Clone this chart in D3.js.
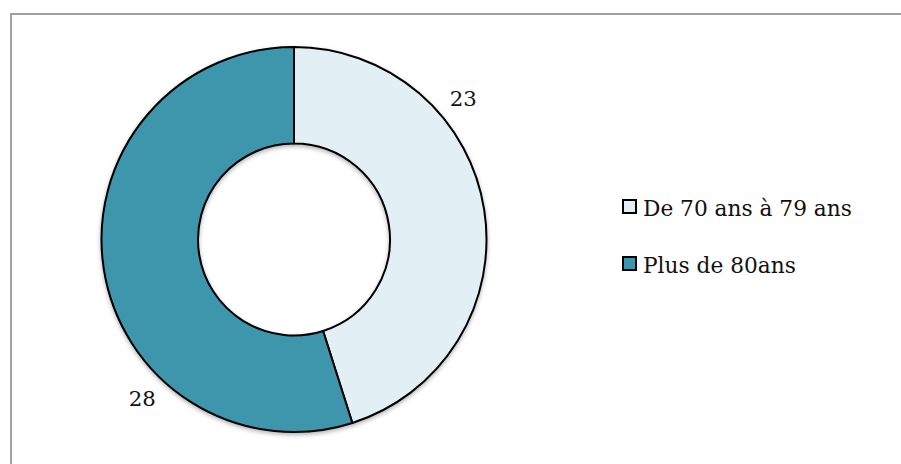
<html>
<head>
<script src="https://d3js.org/d3.v7.min.js"></script>
<style>
body { margin: 0; background: #fff; }
svg { display: block; }
text { font-family: 'DejaVu Serif', 'Liberation Serif', serif; fill: #111; }
</style>
</head>
<body>
<div id="chart"></div>
<script>

// data
var categories = ["De 70 ans à 79 ans", "Plus de 80ans"];
var values = [23, 28];
var colors = ["#e2f0f5", "#3d96ab"];

var width = 901, height = 464;
var cx = 294, cy = 239.5;
var outerR = 192.5, innerR = 96;

var svg = d3.select("#chart").append("svg")
    .attr("width", width).attr("height", height);

// soft shadow under the ring
var defs = svg.append("defs");
var f = defs.append("filter").attr("id", "shadow")
    .attr("x", "-20%").attr("y", "-20%").attr("width", "140%").attr("height", "140%");
f.append("feDropShadow").attr("dx", 0).attr("dy", 2).attr("stdDeviation", 2)
    .attr("flood-color", "#000").attr("flood-opacity", 0.3);

// frame (runs off the right and bottom of the picture)
svg.append("rect")
    .attr("x", 11).attr("y", 14)
    .attr("width", 1000).attr("height", 1000)
    .attr("fill", "none")
    .attr("stroke", "#a0a0a0")
    .attr("stroke-width", 2);

var pie = d3.pie().sort(null).value(function(d) { return d; });
var arc = d3.arc().innerRadius(innerR).outerRadius(outerR);
var arcs = pie(values);

var g = svg.append("g").attr("transform", "translate(" + cx + "," + cy + ")");

g.append("g").attr("filter", "url(#shadow)")
  .selectAll("path")
  .data(arcs)
  .enter().append("path")
    .attr("d", arc)
    .attr("fill", function(d, i) { return colors[i]; })
    .attr("stroke", "#000")
    .attr("stroke-width", 2)
    .attr("stroke-linejoin", "round");

// value labels outside the ring, about a third of the way along each slice
var labelR = 220;
function labelAngle(d) { return d.startAngle + 0.31 * (d.endAngle - d.startAngle); }
var vals = g.selectAll(".val")
  .data(arcs)
  .enter().append("text")
    .attr("class", "val")
    .attr("x", function(d) { return labelR * Math.sin(labelAngle(d)); })
    .attr("y", function(d) { return -labelR * Math.cos(labelAngle(d)) + 7; })
    .attr("text-anchor", "middle")
    .style("font-size", "21px")
    .text(function(d) { return d.value; });

// legend
var legend = svg.append("g").attr("transform", "translate(623,200)");
var item = legend.selectAll(".item")
  .data(categories)
  .enter().append("g")
    .attr("class", "item")
    .attr("transform", function(d, i) { return "translate(0," + (i * 57) + ")"; });

item.append("rect")
    .attr("width", 13).attr("height", 13)
    .attr("fill", function(d, i) { return colors[i]; })
    .attr("stroke", "#000")
    .attr("stroke-width", 2);

var ltext = item.append("text")
    .attr("x", 20).attr("y", 16)
    .style("font-size", "21.5px")
    .text(function(d) { return d; });

// fit the font size so the first legend entry is as wide as in the picture
var w = ltext.node().getComputedTextLength();
var fs = 21.5 * 209 / w;
ltext.style("font-size", fs + "px");
vals.style("font-size", (fs * 0.98) + "px");

</script>
</body>
</html>
